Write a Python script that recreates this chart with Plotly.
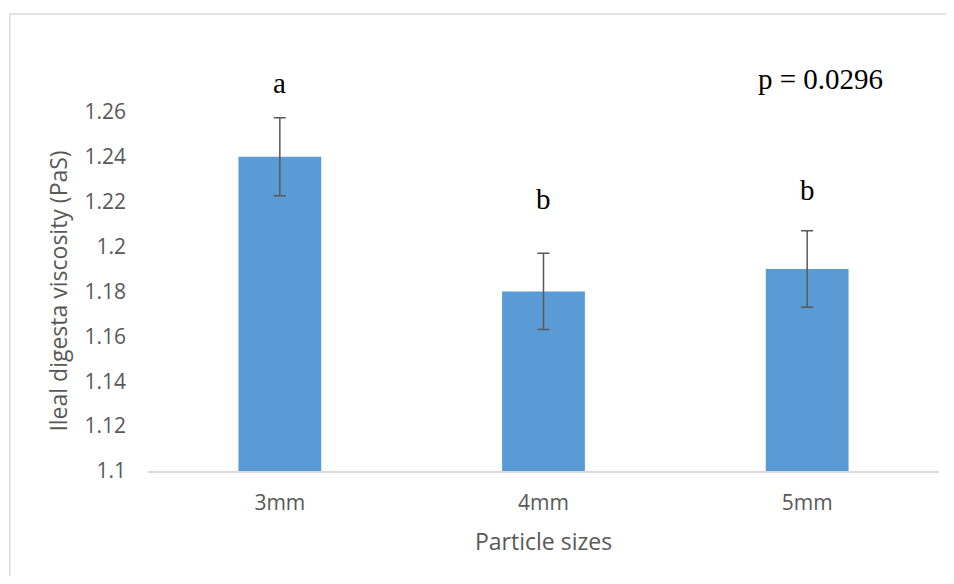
import plotly.graph_objects as go

categories = ["3mm", "4mm", "5mm"]
values = [1.24, 1.18, 1.19]
errors = [0.0174, 0.017, 0.017]
letters = ["a", "b", "b"]
letter_y = [1.2730, 1.2212, 1.2252]
tick_vals = [1.10, 1.12, 1.14, 1.16, 1.18, 1.20, 1.22, 1.24, 1.26]
tick_text = ["1.1", "1.12", "1.14", "1.16", "1.18", "1.2", "1.22", "1.24", "1.26"]
p_text = "p = 0.0296"

# page body has an 8px margin; size the figure so it fits the 954x584 window
OFF = 8
W, H = 954 - 2 * OFF, 584 - 2 * OFF
PL, PR, PT, PB = 147.5, 939.5, 67, 471  # plot area in window pixels
L, R, T, B = PL - OFF, W - (PR - OFF), PT - OFF, H - (PB - OFF)
pw, ph = PR - PL, PB - PT

def px(x):
    return (x - PL) / pw

def py(y):
    return (PB - y) / ph

fig = go.Figure()
fig.add_trace(go.Bar(
    x=categories, y=values,
    marker=dict(color="#5b9bd5", line=dict(width=0)),
    width=0.314,
    error_y=dict(type="data", array=errors, visible=True,
                 color="#595959", thickness=1.5, width=6),
))

for c, t, yy in zip(categories, letters, letter_y):
    fig.add_annotation(x=c, y=yy, text=t, showarrow=False,
                       xanchor="center", yanchor="middle",
                       font=dict(family="Liberation Serif", size=29, color="#000000"))

fig.add_annotation(x=px(821), y=py(79), xref="paper", yref="paper", text=p_text,
                   showarrow=False, xanchor="center", yanchor="middle",
                   font=dict(family="Liberation Serif", size=29, color="#000000"))

fig.add_annotation(x=px(57), y=py(291), xref="paper", yref="paper",
                   text="Ileal digesta viscosity (PaS)", textangle=-90,
                   showarrow=False, xanchor="center", yanchor="middle",
                   font=dict(family="Open Sans", size=23, color="#595959"))

fig.add_annotation(x=px(543), y=py(541), xref="paper", yref="paper",
                   text="Particle sizes", showarrow=False,
                   xanchor="center", yanchor="middle",
                   font=dict(family="Open Sans", size=23, color="#595959"))

# outer chart frame (left and top edges)
fig.add_shape(type="line", xref="paper", yref="paper",
              x0=px(9), x1=px(970), y0=py(14), y1=py(14),
              line=dict(color="#d9d9d9", width=1.5))
fig.add_shape(type="line", xref="paper", yref="paper",
              x0=px(9), x1=px(9), y0=py(14), y1=py(600),
              line=dict(color="#d9d9d9", width=1.5))

fig.update_layout(
    width=W, height=H,
    margin=dict(l=L, r=R, t=T, b=B, pad=0),
    paper_bgcolor="white", plot_bgcolor="white",
    showlegend=False,
    xaxis=dict(showline=True, linecolor="#d9d9d9", linewidth=1.5,
               showgrid=False, ticks="", zeroline=False,
               tickfont=dict(family="Open Sans", size=21, color="#595959"),
               ticklabelstandoff=12),
    yaxis=dict(range=[1.1, 1.28], tickvals=tick_vals, ticktext=tick_text,
               showgrid=False, showline=False, zeroline=False, ticks="",
               tickfont=dict(family="Open Sans", size=21, color="#595959"),
               ticklabelstandoff=21),
)

fig.write_html("out.html")
